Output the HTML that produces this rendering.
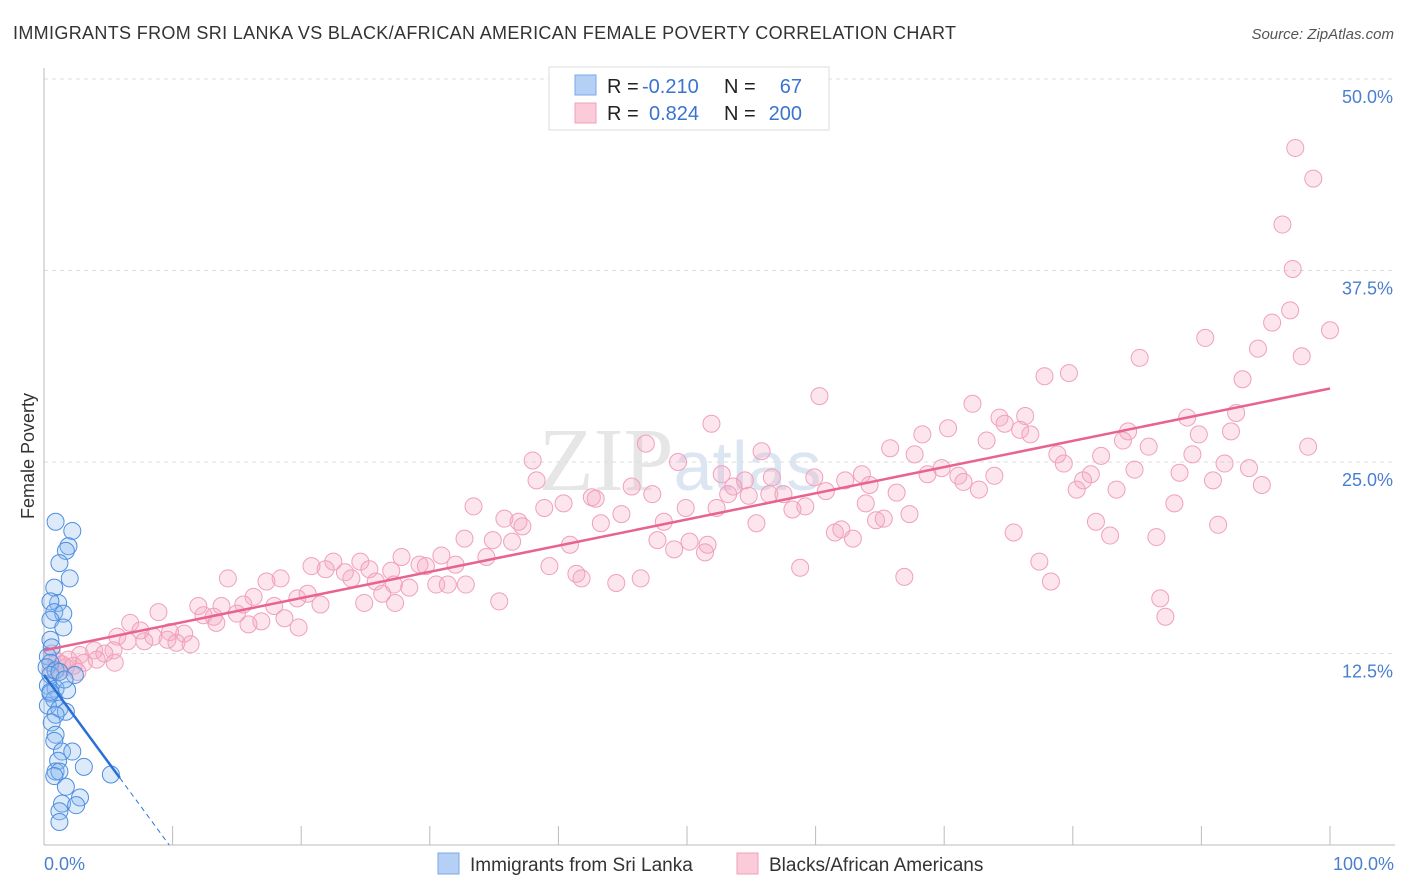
<!DOCTYPE html>
<html><head><meta charset="utf-8"><style>
body{margin:0;background:#fff;font-family:"Liberation Sans",sans-serif;}
svg{display:block}
</style></head><body>
<svg id="chart" width="1406" height="892" xmlns="http://www.w3.org/2000/svg" font-family="Liberation Sans, sans-serif">
<text x="13" y="39" font-size="18" fill="#333" letter-spacing="0.34">IMMIGRANTS FROM SRI LANKA VS BLACK/AFRICAN AMERICAN FEMALE POVERTY CORRELATION CHART</text>
<text x="1394" y="39" font-size="15" fill="#555" text-anchor="end" font-style="italic">Source: ZipAtlas.com</text>
<text x="680" y="490" font-size="90" fill="#e6e6e6" text-anchor="middle" font-family="Liberation Serif, serif">ZIP<tspan font-family="Liberation Sans, sans-serif" font-size="70" fill="#dce6f2">atlas</tspan></text>
<g id="grid"></g>
<g id="axes"></g>
<g id="pts"></g>
<g id="trend"></g>
<text transform="translate(34,456) rotate(-90)" font-size="18" fill="#333" text-anchor="middle">Female Poverty</text>
<text x="44" y="870" font-size="18" fill="#4a7fd0">0.0%</text>
<text x="1394" y="870" font-size="18" fill="#4a7fd0" text-anchor="end">100.0%</text>
<g>
<rect x="549" y="67" width="280" height="63" fill="#fff" stroke="#ddd"/>
<rect x="575" y="75" width="21" height="20" fill="#b5d0f5" stroke="#7aa8e8"/>
<rect x="575" y="103" width="21" height="20" fill="#fbcbd9" stroke="#f0a0b8"/>
<text x="607" y="93" font-size="20" fill="#222">R = </text><text x="642" y="93" font-size="20" fill="#3a74d0">-0.210</text>
<text x="724" y="93" font-size="20" fill="#222">N = </text><text x="802" y="93" font-size="20" fill="#3a74d0" text-anchor="end">67</text>
<text x="607" y="120" font-size="20" fill="#222">R = </text><text x="649" y="120" font-size="20" fill="#3a74d0">0.824</text>
<text x="724" y="120" font-size="20" fill="#222">N = </text><text x="802" y="120" font-size="20" fill="#3a74d0" text-anchor="end">200</text>
</g>
<g>
<rect x="438" y="853" width="21" height="21" fill="#b5d0f5" stroke="#7aa8e8"/>
<text x="470" y="871" font-size="19" fill="#333">Immigrants from Sri Lanka</text></g>
<g>
<rect x="737" y="853" width="21" height="21" fill="#fbcbd9" stroke="#f0a0b8"/>
<text x="769" y="871" font-size="19" fill="#333">Blacks/African Americans</text></g>
</svg>
<script>
const yTicks=[12.5,25,37.5,50];
const xTicks=[10,20,30,40,50,60,70,80,90,100];
const pinkX=[97.3,98.7,96.3,97.1,96.9,95.5,100,90.3,94.4,97.8,85.2,77.8,79.7,93.2,60.3,72.2,74.3,76.3,88.9,92.7,51.9,74.7,75.9,76.7,70.3,68.3,84.3,89.8,92.3,73.3,83.9,46.8,85.9,65.8,98.3,55.8,78.8,89.3,82.2,67.7,38.0,49.3,79.3,91.8,84.8,93.7,69.8,52.7,63.6,68.7,71.1,73.9,88.3,81.4,56.6,38.3,59.9,54.5,71.5,90.9,80.8,45.7,53.6,62.3,64.2,94.7,72.7,80.3,83.4,42.6,47.3,53.2,54.8,56.4,57.5,60.8,66.3,42.9,33.4,38.9,40.4,49.9,52.3,58.2,59.2,63.9,87.9,44.9,35.8,36.9,43.3,48.2,55.4,64.7,65.3,67.3,81.8,91.3,37.2,61.5,62.0,75.4,82.9,86.5,32.7,34.9,36.4,40.9,47.7,50.2,51.6,62.9,49.0,51.4,30.9,27.8,34.4,29.2,29.7,32.0,20.8,22.5,24.6,27.0,21.9,23.4,25.3,39.3,58.8,77.4,41.4,41.8,46.4,44.5,66.9,78.3,14.3,17.3,18.4,23.9,25.8,27.2,28.4,30.5,31.4,32.8,20.5,26.3,16.3,19.7,86.8,35.4,24.9,27.3,21.5,12.0,15.5,17.9,13.8,8.9,87.2,13.2,15.0,12.4,18.7,16.9,15.9,13.4,6.7,19.8,7.5,9.8,10.9,5.7,8.5,9.6,6.5,7.8,10.3,11.4,5.4,2.8,3.9,0.6,4.7,1.9,4.1,3.1,5.5,1.0,1.4,2.3,1.7,0.5,1.2,2.6];
const pinkY=[45.5,43.5,40.5,37.6,34.9,34.1,33.6,33.1,32.4,31.9,31.8,30.6,30.8,30.4,29.3,28.8,27.9,28.0,27.9,28.2,27.5,27.5,27.1,26.8,27.2,26.8,27.0,26.8,27.0,26.4,26.4,26.2,26.0,25.9,26.0,25.7,25.5,25.5,25.4,25.5,25.1,25.0,24.9,24.9,24.5,24.6,24.6,24.2,24.2,24.2,24.1,24.1,24.3,24.2,24.0,23.8,24.0,23.8,23.7,23.8,23.8,23.4,23.4,23.8,23.5,23.5,23.2,23.2,23.2,22.7,22.9,22.9,22.8,22.9,22.9,23.1,23.0,22.6,22.1,22.0,22.3,22.0,22.0,21.9,22.1,22.3,22.3,21.6,21.3,21.1,21.0,21.1,21.0,21.2,21.3,21.6,21.1,20.9,20.8,20.4,20.6,20.4,20.2,20.1,20.0,19.9,19.8,19.6,19.9,19.8,19.6,20.0,19.3,19.1,18.9,18.8,18.8,18.3,18.2,18.3,18.2,18.5,18.5,17.9,18.0,17.8,18.0,18.2,18.1,18.5,17.7,17.4,17.4,17.1,17.5,17.2,17.4,17.2,17.4,17.4,17.2,17.0,16.8,17.0,17.0,17.0,16.4,16.4,16.2,16.1,16.1,15.9,15.8,15.8,15.7,15.6,15.7,15.6,15.6,15.2,14.9,14.9,15.1,15.0,14.8,14.6,14.4,14.5,14.5,14.2,14.0,13.9,13.8,13.6,13.6,13.4,13.3,13.3,13.2,13.1,12.7,12.4,12.7,12.5,12.5,12.1,12.1,11.9,11.9,12.0,11.8,11.7,11.6,11.4,11.3,11.3];
const blueX=[0.9,2.2,1.9,1.7,1.2,2.0,0.8,1.1,0.5,0.8,1.5,0.5,1.5,0.5,0.6,0.3,0.5,0.2,0.9,0.5,1.2,2.4,0.3,0.9,1.8,0.5,0.8,0.3,1.2,1.7,0.9,0.6,0.9,0.8,1.4,2.2,1.1,3.1,0.9,1.2,0.8,5.2,1.7,2.8,1.4,2.5,1.2,1.2,0.5,1.6];
const blueY=[21.1,20.5,19.5,19.2,18.4,17.4,16.8,15.8,15.9,15.2,15.1,14.7,14.2,13.4,12.9,12.3,11.9,11.6,11.4,11.1,11.3,11.1,10.4,10.2,10.1,9.9,9.5,9.1,8.9,8.7,8.5,8.0,7.2,6.8,6.1,6.1,5.5,5.1,4.8,4.8,4.5,4.6,3.8,3.1,2.7,2.6,2.2,1.5,10.0,10.8];
const pinkTrend=[12.7,29.8];
const blueTrend=[11.1,-1.14];
const NS="http://www.w3.org/2000/svg";
const X=v=>44+v*12.86, Y=v=>845-v*15.32;
function mk(t,a,p){const e=document.createElementNS(NS,t);for(const k in a)e.setAttribute(k,a[k]);document.getElementById(p).appendChild(e);return e;}
yTicks.forEach(t=>{
 const l=mk('line',{x1:44,x2:1395,y1:Y(t),y2:Y(t),stroke:'#ddd','stroke-dasharray':'4,4'},'grid');
 
 
 const tx=mk('text',{x:1393,y:Y(t)+24,'font-size':18,fill:'#4a7fd0','text-anchor':'end'},'grid');
 tx.textContent=t.toFixed(1)+'%';
 
 
});
const ax=mk('line',{x1:44,x2:44,y1:68,y2:845,stroke:'#bbb'},'axes');


const bx=mk('line',{x1:44,x2:1395,y1:845,y2:845,stroke:'#bbb'},'axes');


xTicks.forEach(t=>{
 const l=mk('line',{x1:X(t),x2:X(t),y1:826,y2:845,stroke:'#bbb'},'axes');
 
 
});
pinkX.forEach((x,i)=>{
 const c=mk('circle',{cx:X(x),cy:Y(pinkY[i]),r:8.5,fill:'rgba(246,170,195,0.3)',stroke:'#f0a0bb','stroke-width':1},'pts');
 
 
});
blueX.forEach((x,i)=>{
 const c=mk('circle',{cx:X(x),cy:Y(blueY[i]),r:8.5,fill:'rgba(140,185,240,0.3)',stroke:'#4d8fe0','stroke-width':1},'pts');
 
 
});
const pl=mk('line',{x1:X(0),y1:Y(pinkTrend[0]),x2:X(100),y2:Y(pinkTrend[1]),stroke:'#e8638f','stroke-width':2.5},'trend');


const bEnd=5.9, bZero=-blueTrend[0]/blueTrend[1];
const bl=mk('line',{x1:X(0),y1:Y(blueTrend[0]),x2:X(bEnd),y2:Y(blueTrend[0]+blueTrend[1]*bEnd),stroke:'#2a6fd6','stroke-width':2.5},'trend');


const bd=mk('line',{x1:X(bEnd),y1:Y(blueTrend[0]+blueTrend[1]*bEnd),x2:X(bZero),y2:Y(0),stroke:'#2a6fd6','stroke-width':1,'stroke-dasharray':'5,4'},'trend');


</script>
</body></html>
